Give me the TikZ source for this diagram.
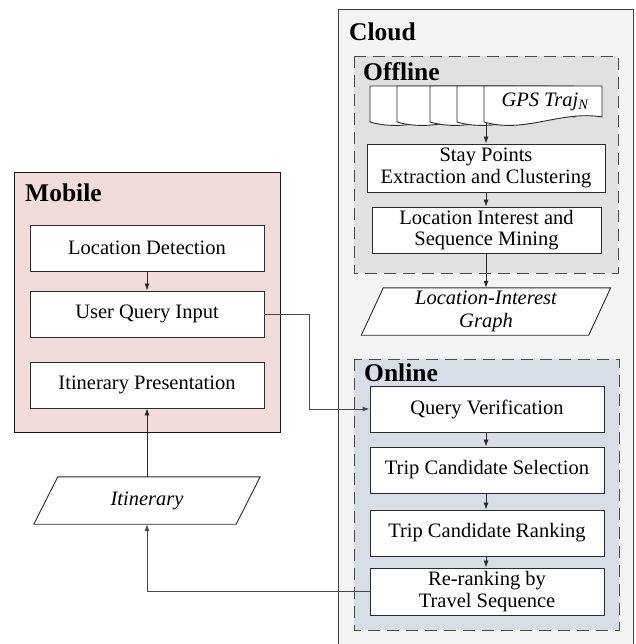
\documentclass[tikz,border=0pt]{standalone}
\usepackage{fontspec}
\setmainfont{Liberation Serif}
\usetikzlibrary{arrows.meta,calc}

\definecolor{cloudfill}{HTML}{F4F4F4}
\definecolor{offlinefill}{HTML}{E1E1E1}
\definecolor{onlinefill}{HTML}{D7DEE8}
\definecolor{mobilefill}{HTML}{F2DCDB}
\definecolor{edge}{HTML}{2A2A2A}

\tikzset{
  boxfont/.style={font=\fontsize{20.5}{21.5}\selectfont},
  procbox/.style={boxfont, draw=edge, line width=0.9pt, fill=white,
    inner sep=0pt, align=center},
  datanode/.style={boxfont, inner sep=0pt, align=center,
    font=\fontsize{20.5}{23}\selectfont\itshape},
  heading/.style={font=\bfseries\fontsize{25.5}{28}\selectfont,
    inner sep=0pt, anchor=base west},
  group/.style={draw=edge!90, line width=0.9pt},
  dashgroup/.style={draw=edge!85, line width=0.9pt,
    dash pattern=on 12pt off 7pt},
  flow/.style={draw=edge, line width=0.8pt,
    -{Latex[length=7pt,width=5pt]}},
  link/.style={draw=black!72, line width=0.9pt,
    -{Latex[length=7pt,width=5pt]}},
}

\begin{document}
\begin{tikzpicture}[x=1pt,y=-1pt]
  \clip (0,0) rectangle (635,644);
  \fill[white] (0,0) rectangle (635,644);

  % containers
  \filldraw[group, fill=cloudfill] (338,9) rectangle (633,660);
  \filldraw[dashgroup, fill=offlinefill] (354,56) rectangle (618,273);
  \filldraw[dashgroup, fill=onlinefill] (354,359) rectangle (619,630);
  \filldraw[group, draw=black!90, fill=mobilefill] (14,172) rectangle (280,432);

  \node[heading] (cloudlbl) at (349,41) {Cloud};
  \node[heading] (offlinelbl) at (363,81) {Offline};
  \node[heading] (onlinelbl) at (364,381) {Online};
  \node[heading] (mobilelbl) at (25,202) {Mobile};

  % stack of trajectory documents, back to front
  \foreach \px in {370,397,430,457,484}{
    \filldraw[draw=edge, line width=0.9pt, fill=white]
      (\px,86) -- (\px+118,86) -- (\px+118,117)
      .. controls (\px+77,110) and (\px+41,134) .. (\px,122) -- cycle;
  }
  \node[datanode] (gpslbl) at (545,102) {GPS Traj\textsubscript{N}};
  \coordinate (docs) at (486,122.5);

  % offline pipeline
  \node[procbox, minimum width=238pt, minimum height=48pt] (stay) at (486,168)
    {Stay Points\\Extraction and Clustering};
  \node[procbox, minimum width=229pt, minimum height=46pt] (lii) at (486.5,230)
    {Location Interest and\\Sequence Mining};

  % location-interest graph
  \node[datanode, minimum width=227pt, minimum height=47pt] (lig) at (486,311.5)
    {Location-Interest\\Graph};
  \filldraw[draw=edge, line width=0.9pt, fill=white]
    ($(lig.north west)+(11,0)$) -- ($(lig.north east)+(11,0)$) --
    ($(lig.south east)+(-11,0)$) -- ($(lig.south west)+(-11,0)$) -- cycle;
  \node[datanode] at (lig.center) {Location-Interest\\Graph};

  % online pipeline
  \node[procbox, minimum width=234pt, minimum height=46pt] (qv) at (487,409)
    {Query Verification};
  \node[procbox, minimum width=234pt, minimum height=46pt] (tcs) at (487,470)
    {Trip Candidate Selection};
  \node[procbox, minimum width=234pt, minimum height=46pt] (tcr) at (487,533)
    {Trip Candidate Ranking};
  \node[procbox, minimum width=234pt, minimum height=47pt] (rr) at (487,591.5)
    {Re-ranking by\\Travel Sequence};

  % mobile side
  \node[procbox, minimum width=234pt, minimum height=46pt] (locdet) at (147,248)
    {Location Detection};
  \node[procbox, minimum width=234pt, minimum height=46pt] (uqi) at (147,314)
    {User Query Input};
  \node[procbox, minimum width=234pt, minimum height=46pt] (ip) at (147,385)
    {Itinerary Presentation};

  % itinerary data
  \node[datanode, minimum width=202pt, minimum height=47pt] (itin) at (147,500.5)
    {Itinerary};
  \filldraw[draw=edge, line width=0.9pt, fill=white]
    ($(itin.north west)+(12,0)$) -- ($(itin.north east)+(12,0)$) --
    ($(itin.south east)+(-12,0)$) -- ($(itin.south west)+(-12,0)$) -- cycle;
  \node[datanode] at (itin.center) {Itinerary};

  % connectors
  \draw[flow] (docs) -- (stay.north -| docs);
  \draw[flow] (stay.south -| docs) -- (lii.north -| docs);
  \draw[flow] (lii.south -| docs) -- (lig.north -| docs);
  \draw[flow] (qv.south -| docs) -- (tcs.north -| docs);
  \draw[flow] (tcs.south -| docs) -- (tcr.north -| docs);
  \draw[flow] (tcr.south -| docs) -- (rr.north -| docs);
  \draw[flow] (locdet) -- (uqi);
  \draw[flow] (itin.north -| ip.south) -- (ip.south);

  \coordinate (bend) at (309,314);
  \draw[link] (uqi.east) -- (bend) |- (qv.west);
  \draw[link] (rr.west) -| (itin.south -| ip.south);
\end{tikzpicture}
\end{document}
